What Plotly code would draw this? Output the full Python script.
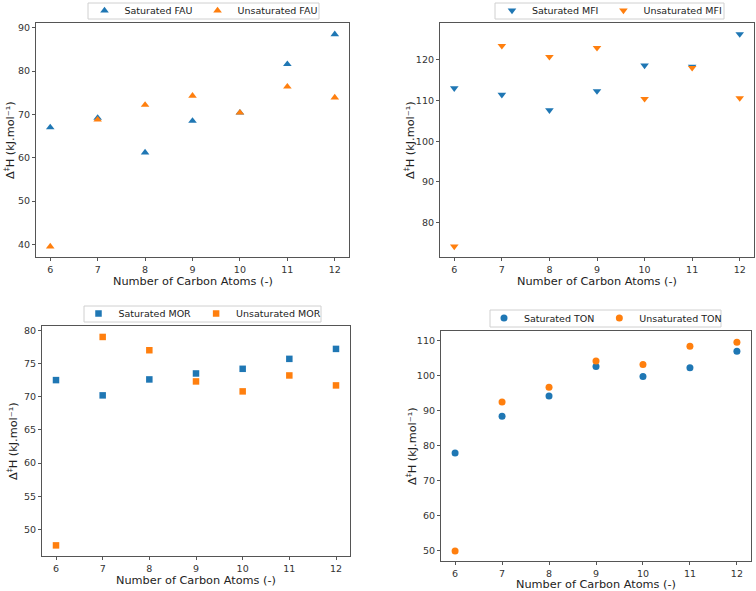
import plotly.graph_objects as go

carbons = [6, 7, 8, 9, 10, 11, 12]

fau_sat = [67.0, 69.2, 61.2, 68.5, 70.4, 81.6, 88.5]
fau_unsat = [39.5, 68.8, 72.2, 74.3, 70.4, 76.4, 73.9]

mfi_sat = [113.0, 111.4, 107.6, 112.3, 118.6, 118.3, 126.3]
mfi_unsat = [74.2, 123.4, 120.7, 122.9, 110.4, 118.0, 110.6]

mor_sat = [72.5, 70.2, 72.6, 73.5, 74.2, 75.7, 77.2]
mor_unsat = [47.6, 79.0, 77.0, 72.3, 70.8, 73.2, 71.7]

ton_sat = [77.9, 88.4, 94.2, 102.65, 99.8, 102.3, 107.0]
ton_unsat = [49.8, 92.5, 96.7, 104.2, 103.2, 108.4, 109.6]

x_title = "Number of Carbon Atoms (-)"
y_title = "Δ<sup>‡</sup>H (kJ.mol⁻¹)"

BLUE = "#1f77b4"
ORANGE = "#ff7f0e"
FONT = "DejaVu Sans"
W, H = 756, 591
LEG_OFFSET = 15  # px from legend top to item centre

panels = [
    # (sat, unsat, name, symbol, size, xdom_px, ydom_px, yrange, dtick, legend box px (x0,x1,y0,y1), xtitle y, ytitle x)
    (fau_sat, fau_unsat, "FAU", "triangle-up", 7.5, (36, 349), (23, 257), (37.1, 91.1), 10, (88, 319, 3, 19), 281, 10),
    (mfi_sat, mfi_unsat, "MFI", "triangle-down", 7.5, (440, 754), (23, 257), (71.6, 129.0), 10, (495, 724, 3, 19), 281, 410),
    (mor_sat, mor_unsat, "MOR", "square", 6.5, (42, 350), (326, 556), (46.0, 80.65), 5, (84, 321, 306, 322), 580, 12),
    (ton_sat, ton_unsat, "TON", "circle", 7, (441, 751), (331, 561), (46.95, 112.8), 10, (490, 721, 310, 327), 584, 411),
]

fig = go.Figure()
layout = {}
annotations = []
shapes = []
for i, (sat, unsat, name, sym, sz, xd, yd, yr, dt, lb, xty, ytx) in enumerate(panels):
    n = "" if i == 0 else str(i + 1)
    leg = "legend" + n
    fig.add_trace(go.Scatter(x=carbons, y=sat, mode="markers", name="Saturated " + name,
                             marker=dict(symbol=sym, size=sz, color=BLUE, line=dict(width=0)),
                             xaxis="x" + n, yaxis="y" + n, legend=leg))
    fig.add_trace(go.Scatter(x=carbons, y=unsat, mode="markers", name="Unsaturated " + name,
                             marker=dict(symbol=sym, size=sz, color=ORANGE, line=dict(width=0)),
                             xaxis="x" + n, yaxis="y" + n, legend=leg))
    axstyle = dict(showline=True, linecolor="#555", linewidth=1.2, mirror=True, showgrid=False,
                   zeroline=False, ticks="outside", ticklen=3, tickcolor="#555",
                   tickfont=dict(family=FONT, size=9.5, color="#333"))
    layout["xaxis" + n] = dict(domain=[xd[0] / W, xd[1] / W], range=[5.7, 12.3], tickmode="array",
                               tickvals=carbons, anchor="y" + n, **axstyle)
    layout["yaxis" + n] = dict(domain=[1 - yd[1] / H, 1 - yd[0] / H], range=list(yr), dtick=dt,
                               anchor="x" + n, **axstyle)
    cy = (lb[2] + lb[3]) / 2
    layout[leg] = dict(orientation="h", x=(lb[0] + lb[1]) / 2 / W, y=1 - (cy - LEG_OFFSET) / H,
                       xanchor="center", yanchor="top",
                       borderwidth=0, bgcolor="rgba(0,0,0,0)",
                       font=dict(family=FONT, size=9.5, color="#222"),
                       itemsizing="trace", tracegroupgap=0)
    shapes.append(dict(type="rect", xref="paper", yref="paper",
                       x0=lb[0] / W, x1=lb[1] / W, y0=1 - lb[3] / H, y1=1 - lb[2] / H,
                       line=dict(color="#d0d0d0", width=1), fillcolor="white", layer="above"))
    annotations.append(dict(text=x_title, xref="paper", yref="paper",
                            x=(xd[0] + xd[1]) / 2 / W, y=1 - xty / H, xanchor="center", yanchor="middle",
                            showarrow=False, font=dict(family=FONT, size=11.3, color="#222")))
    annotations.append(dict(text=y_title, xref="paper", yref="paper",
                            x=ytx / W, y=1 - (yd[0] + yd[1]) / 2 / H, xanchor="center", yanchor="middle",
                            textangle=-90, showarrow=False, font=dict(family=FONT, size=11.3, color="#222")))

fig.update_layout(width=W, height=H, margin=dict(l=0, r=0, t=0, b=0, autoexpand=False),
                  paper_bgcolor="white", plot_bgcolor="white", showlegend=True,
                  annotations=annotations, shapes=shapes, **layout)
fig.write_html("out.html")
